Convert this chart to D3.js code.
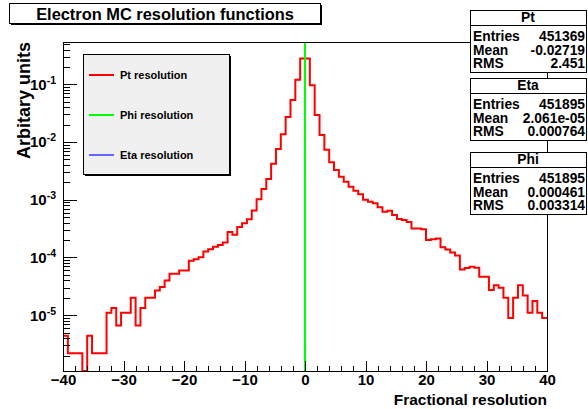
<!DOCTYPE html>
<html>
<head>
<meta charset="utf-8">
<script src="https://cdn.jsdelivr.net/npm/d3@7/dist/d3.min.js"></script>
<style>
  body { margin: 0; background: #fff; }
  svg { display: block; font-family: "Liberation Sans", Arial, Helvetica, sans-serif; font-weight: bold; }
</style>
</head>
<body>
<svg id="chart" width="588" height="409"></svg>
<script>
// Pt resolution: 100 bins from -40 to 40, contents normalised to unit area
var ptLow = -40, ptHigh = 40;
var ptValues = [
  4.4e-6, 2.2e-6, 2.2e-6, 2.2e-6, 0, 4.4e-6, 2.2e-6, 2.2e-6, 2.2e-6, 1.1e-5,
  1.33e-5, 6.6e-6, 1.1e-5, 1.1e-5, 2.0e-5, 6.6e-6, 1.33e-5, 2.0e-5, 2.0e-5, 2.68e-5,
  3.08e-5, 3.99e-5, 5.24e-5, 5.24e-5, 5.95e-5, 5.95e-5, 8.77e-5, 9.34e-5, 1.007e-4, 1.27e-4,
  1.39e-4, 1.54e-4, 1.64e-4, 1.82e-4, 2.77e-4, 2.47e-4, 3.37e-4, 3.91e-4, 4.59e-4, 6.52e-4,
  1.02e-3, 1.54e-3, 2.29e-3, 4.21e-3, 7.57e-3, 1.36e-2, 2.72e-2, 5.35e-2, 1.20e-1, 2.80e-1,
  2.80e-1, 9.6e-2, 2.94e-2, 1.32e-2, 7.36e-3, 4.46e-3, 3.28e-3, 2.51e-3, 2.05e-3, 1.68e-3,
  1.43e-3, 1.24e-3, 1.00e-3, 9.25e-4, 8.69e-4, 7.40e-4, 6.21e-4, 6.46e-4, 5.44e-4, 4.64e-4,
  4.46e-4, 4.12e-4, 3.18e-4, 3.18e-4, 3.08e-4, 2.01e-4, 2.07e-4, 2.13e-4, 1.50e-4, 1.37e-4,
  1.22e-4, 1.08e-4, 6.19e-5, 6.58e-5, 6.92e-5, 6.65e-5, 4.65e-5, 4.65e-5, 2.74e-5, 3.30e-5,
  3.0e-5, 2.0e-5, 8.9e-6, 2.0e-5, 3.3e-5, 2.2e-5, 1.1e-5, 1.77e-5, 1.1e-5, 8.9e-6
];

// Phi and Eta resolutions are very narrow: fine bins around zero
var phiEdges = [-0.012, -0.008, -0.004, 0, 0.004, 0.008, 0.012];
var phiValues = [3e-6, 2e-3, 0.35, 0.55, 2e-3, 3e-6];
var etaEdges = [-0.003, -0.0015, 0, 0.0015, 0.003];
var etaValues = [4e-6, 0.6, 0.4, 4e-6];

var legendLabels = ["Pt resolution", "Phi resolution", "Eta resolution"];
var legendColors = ["#ff0000", "#00ff00", "#6666ff"];

var statNames = ["Pt", "Eta", "Phi"];
var statEntries = ["451369", "451895", "451895"];
var statMeans = ["-0.02719", "2.061e-05", "0.000461"];
var statRms = ["2.451", "0.000764", "0.003314"];

var xMajorTicks = [-40, -30, -20, -10, 0, 10, 20, 30, 40];
var yMajorTicks = [1e-5, 1e-4, 1e-3, 1e-2, 1e-1];
var yRange = [1.08e-6, 0.54];

var svg = d3.select("#chart");
var margin = { top: 42, right: 41, bottom: 38, left: 63 };
var width = 588 - margin.left - margin.right;
var height = 409 - margin.top - margin.bottom;

var xScale = d3.scaleLinear().domain([ptLow, ptHigh]).range([0, width]);
var yScale = d3.scaleLog().domain(yRange).range([height, 0]);

var g = svg.append("g").attr("transform", "translate(" + margin.left + "," + margin.top + ")");

svg.append("defs").append("clipPath").attr("id", "plotClip")
  .append("rect").attr("x", 0).attr("y", 0).attr("width", width).attr("height", height);

// outline of a histogram; optionally closed down to the baseline at both ends
function histPoints(edges, values, closed) {
  var pts = closed ? [[edges[0], 0]] : [];
  values.forEach(function (v, i) {
    pts.push([edges[i], v]);
    pts.push([edges[i + 1], v]);
  });
  if (closed) pts.push([edges[edges.length - 1], 0]);
  return pts;
}

var histLine = d3.line()
  .x(function (d) { return xScale(d[0]); })
  .y(function (d) { return d[1] > 0 ? yScale(d[1]) : height; });

var ptWidth = (ptHigh - ptLow) / ptValues.length;
var ptEdges = d3.range(ptValues.length + 1).map(function (i) { return ptLow + i * ptWidth; });

var plot = g.append("g").attr("clip-path", "url(#plotClip)");

plot.append("path")
  .attr("d", histLine(histPoints(ptEdges, ptValues, false)))
  .attr("fill", "none").attr("stroke", legendColors[0]).attr("stroke-width", 2);

plot.append("path")
  .attr("d", histLine(histPoints(etaEdges, etaValues, true)))
  .attr("fill", "none").attr("stroke", legendColors[2]).attr("stroke-width", 2);

plot.append("path")
  .attr("d", histLine(histPoints(phiEdges, phiValues, true)))
  .attr("fill", "none").attr("stroke", legendColors[1]).attr("stroke-width", 2);

// axes
var xMinor = d3.range(ptLow, ptHigh + 0.001, 2).filter(function (v) { return v % 10 !== 0; });

g.append("g").attr("transform", "translate(0," + height + ")")
  .call(d3.axisBottom(xScale).tickValues(xMinor).tickSize(-5).tickFormat(""));

var xAxisG = g.append("g").attr("transform", "translate(0," + height + ")")
  .call(d3.axisBottom(xScale).tickValues(xMajorTicks).tickSize(-10).tickPadding(3).tickFormat(d3.format("d")));
xAxisG.selectAll("text").attr("font-size", 15).attr("fill", "#000");

var yMinor = [];
[-6, -5, -4, -3, -2, -1].forEach(function (e) {
  for (var k = 2; k <= 9; k++) {
    var v = k * Math.pow(10, e);
    if (v >= yRange[0] && v <= yRange[1]) yMinor.push(v);
  }
});

g.append("g")
  .call(d3.axisLeft(yScale).tickValues(yMinor).tickSize(-7).tickFormat(""));

var yAxisG = g.append("g")
  .call(d3.axisLeft(yScale).tickValues(yMajorTicks).tickSize(-14).tickPadding(7));
yAxisG.selectAll(".tick text").each(function (d) {
  var t = d3.select(this).text("").attr("font-size", 15).attr("fill", "#000");
  t.append("tspan").text("10");
  t.append("tspan").attr("font-size", 10.5).attr("dy", -6).text(Math.round(Math.log10(d)));
});

g.selectAll(".domain").remove();
g.selectAll(".tick line").attr("stroke", "#000").attr("shape-rendering", "crispEdges");

g.append("rect")
  .attr("x", 0).attr("y", 0).attr("width", width).attr("height", height)
  .attr("fill", "none").attr("stroke", "#000").attr("shape-rendering", "crispEdges");

// axis titles
svg.append("text")
  .attr("x", margin.left + width).attr("y", 405)
  .attr("text-anchor", "end").attr("font-size", 15.5)
  .text("Fractional resolution");

svg.append("text")
  .attr("transform", "translate(30," + margin.top + ") rotate(-90)")
  .attr("text-anchor", "end").attr("font-size", 18)
  .text("Arbitary units");

// boxes with ROOT-like shadow
function paveBox(x, y, w, h, fill) {
  svg.append("rect").attr("x", x + 2).attr("y", y + 2).attr("width", w).attr("height", h)
    .attr("fill", "#000").attr("shape-rendering", "crispEdges");
  svg.append("rect").attr("x", x + 0.5).attr("y", y + 0.5).attr("width", w).attr("height", h)
    .attr("fill", fill).attr("stroke", "#000").attr("shape-rendering", "crispEdges");
}

// title
paveBox(9, 3, 311, 20, "#fff");
svg.append("text").attr("x", 165).attr("y", 19.5).attr("text-anchor", "middle")
  .attr("font-size", 16.4).text("Electron MC resolution functions");

// legend
paveBox(83, 54, 146, 120, "#f0f0f0");
legendLabels.forEach(function (lab, i) {
  var ly = 75 + i * 40;
  svg.append("line").attr("x1", 89).attr("x2", 114).attr("y1", ly).attr("y2", ly)
    .attr("stroke", legendColors[i]).attr("stroke-width", 2);
  svg.append("text").attr("x", 120).attr("y", ly + 4).attr("font-size", 11).text(lab);
});

// stats boxes
var statTops = [10, 78, 152];
statNames.forEach(function (name, i) {
  var top = statTops[i];
  var bx = 470, bw = 116, bh = 62;
  svg.append("rect").attr("x", bx + 0.5).attr("y", top + 0.5).attr("width", bw).attr("height", bh)
    .attr("fill", "#fff").attr("stroke", "#000").attr("shape-rendering", "crispEdges");
  svg.append("line").attr("x1", bx).attr("x2", bx + bw).attr("y1", top + 15.5).attr("y2", top + 15.5)
    .attr("stroke", "#000").attr("shape-rendering", "crispEdges");
  svg.append("text").attr("x", bx + bw / 2).attr("y", top + 12).attr("text-anchor", "middle")
    .attr("font-size", 13.8).text(name);
  var rows = [["Entries", statEntries[i]], ["Mean", statMeans[i]], ["RMS", statRms[i]]];
  rows.forEach(function (r, j) {
    var ty = top + 31 + j * 13.5;
    svg.append("text").attr("x", bx + 3).attr("y", ty).attr("font-size", 13.8).text(r[0]);
    svg.append("text").attr("x", bx + bw - 1).attr("y", ty).attr("text-anchor", "end")
      .attr("font-size", 13.8).text(r[1]);
  });
});
</script>
</body>
</html>
